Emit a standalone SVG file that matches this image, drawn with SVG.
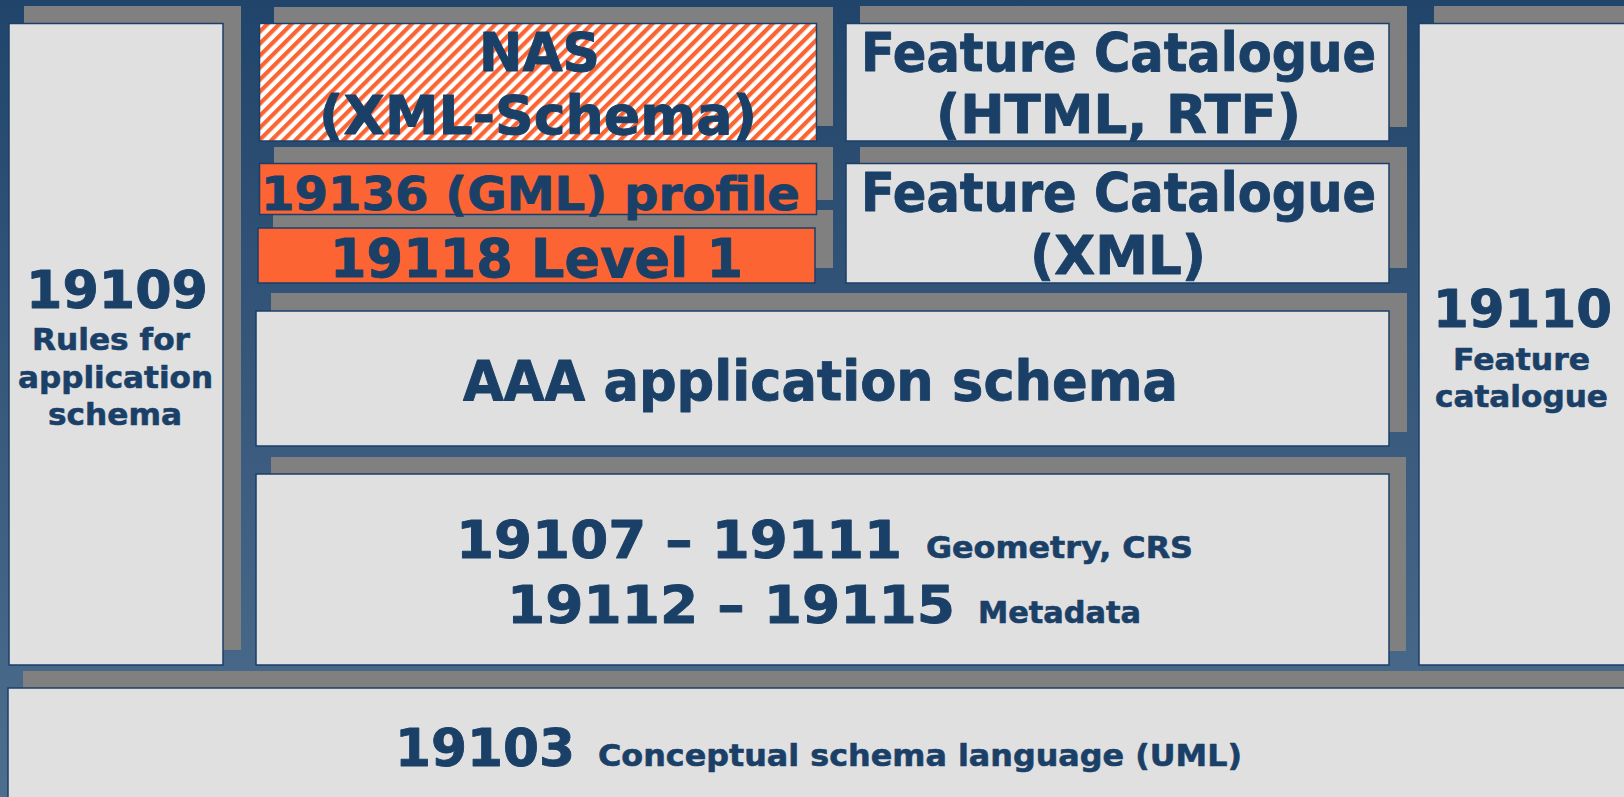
<svg xmlns="http://www.w3.org/2000/svg" width="1624" height="797" viewBox="0 0 1624 797">
  <defs>
    <linearGradient id="bg" x1="0" y1="0" x2="0" y2="1">
      <stop offset="0" stop-color="#21446a"/>
      <stop offset="1" stop-color="#4e6e8e"/>
    </linearGradient>
    <pattern id="stripes" patternUnits="userSpaceOnUse" width="8.5" height="8.5" patternTransform="rotate(45)">
      <rect x="0" y="0" width="8.5" height="8.5" fill="#ffffff"/>
      <rect x="0" y="0" width="4.2" height="8.5" fill="#fa6433"/>
    </pattern>
    <style>
      .sh { fill: #808080; }
      .bx { fill: #e0e0e0; stroke: #1b3f68; stroke-width: 1.5; }
      .or { fill: #fc6433; stroke: #1b3f68; stroke-width: 1.5; }
      .st { fill: url(#stripes); stroke: #1b3f68; stroke-width: 1.5; }
      text { font-family: "DejaVu Sans", Verdana, "Liberation Sans", sans-serif; font-weight: bold; fill: #1a4068; stroke: #1a4068; stroke-width: 0.9; stroke-linejoin: round; }
      .big { font-size: 52px; }
      .mid { font-size: 31px; stroke-width: 0.6; }
      .sm { font-size: 30px; stroke-width: 0.6; }
    </style>
  </defs>

  <rect x="0" y="0" width="1624" height="797" fill="url(#bg)"/>

  <g id="n19103">
    <rect class="sh" x="23" y="671" width="1650" height="150"/>
    <rect class="bx" x="8" y="688" width="1650" height="150"/>
    <text class="big" x="395" y="766" textLength="180" lengthAdjust="spacingAndGlyphs">19103</text>
    <text class="mid" x="598" y="766" textLength="644" lengthAdjust="spacingAndGlyphs">Conceptual schema language (UML)</text>
  </g>

  <g id="n19107">
    <rect class="sh" x="271" y="457" width="1135" height="194"/>
    <rect class="bx" x="256" y="474" width="1133" height="191"/>
    <text class="big" x="456" y="558" textLength="446" lengthAdjust="spacingAndGlyphs">19107 – 19111</text>
    <text class="sm" x="926" y="558" textLength="267" lengthAdjust="spacingAndGlyphs">Geometry, CRS</text>
    <text class="big" x="507" y="623" textLength="448" lengthAdjust="spacingAndGlyphs">19112 – 19115</text>
    <text class="sm" x="978" y="623" textLength="163" lengthAdjust="spacingAndGlyphs">Metadata</text>
  </g>

  <g id="aaa">
    <rect class="sh" x="271" y="293" width="1136" height="139"/>
    <rect class="bx" x="256" y="311" width="1133" height="135"/>
    <text x="463" y="400" font-size="56" textLength="715" lengthAdjust="spacingAndGlyphs">AAA application schema</text>
  </g>

  <g id="n19118">
    <rect class="sh" x="273" y="210" width="560" height="58"/>
    <rect class="or" x="258" y="228" width="557" height="55"/>
    <text x="330" y="277" font-size="54" textLength="413" lengthAdjust="spacingAndGlyphs">19118 Level 1</text>
  </g>

  <g id="n19136">
    <rect class="sh" x="274" y="147" width="559" height="53"/>
    <rect class="or" x="259.5" y="163.5" width="557" height="51"/>
    <text x="261" y="210" font-size="47" textLength="539" lengthAdjust="spacingAndGlyphs">19136 (GML) profile</text>
  </g>

  <g id="nas">
    <rect class="sh" x="274" y="7" width="559" height="119"/>
    <rect class="st" x="259.5" y="23.5" width="557" height="117.5"/>
    <text x="479" y="71" font-size="53" textLength="121" lengthAdjust="spacingAndGlyphs">NAS</text>
    <text x="319" y="134" font-size="54" textLength="438" lengthAdjust="spacingAndGlyphs">(XML-Schema)</text>
  </g>

  <g id="fc-xml">
    <rect class="sh" x="860" y="147" width="547" height="121"/>
    <rect class="bx" x="846" y="163.5" width="543" height="119.5"/>
    <text x="861" y="211" font-size="53" textLength="515" lengthAdjust="spacingAndGlyphs">Feature Catalogue</text>
    <text x="1030" y="274" font-size="53" textLength="176" lengthAdjust="spacingAndGlyphs">(XML)</text>
  </g>

  <g id="fc-html">
    <rect class="sh" x="860" y="6" width="547" height="121"/>
    <rect class="bx" x="846" y="23.5" width="543" height="117.5"/>
    <text x="861" y="71" font-size="53" textLength="515" lengthAdjust="spacingAndGlyphs">Feature Catalogue</text>
    <text x="936" y="133" font-size="53" textLength="365" lengthAdjust="spacingAndGlyphs">(HTML, RTF)</text>
  </g>

  <g id="n19109">
    <rect class="sh" x="24" y="6" width="217" height="644"/>
    <rect class="bx" x="9" y="23.5" width="214" height="641.5"/>
    <text class="big" x="26" y="308" textLength="182" lengthAdjust="spacingAndGlyphs">19109</text>
    <text class="mid" x="32" y="350" textLength="158" lengthAdjust="spacingAndGlyphs">Rules for</text>
    <text class="mid" x="18" y="388" textLength="195" lengthAdjust="spacingAndGlyphs">application</text>
    <text class="mid" x="48" y="425" textLength="134" lengthAdjust="spacingAndGlyphs">schema</text>
  </g>

  <g id="n19110">
    <rect class="sh" x="1434" y="6" width="250" height="644"/>
    <rect class="bx" x="1419" y="23.5" width="250" height="641.5"/>
    <text class="big" x="1433" y="327" textLength="179" lengthAdjust="spacingAndGlyphs">19110</text>
    <text class="mid" x="1453" y="370" textLength="137" lengthAdjust="spacingAndGlyphs">Feature</text>
    <text class="mid" x="1435" y="407" textLength="173" lengthAdjust="spacingAndGlyphs">catalogue</text>
  </g>
</svg>
